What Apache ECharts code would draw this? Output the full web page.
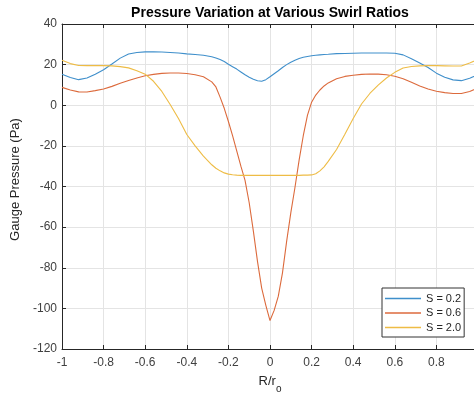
<!DOCTYPE html>
<html>
<head>
<meta charset="utf-8">
<script src="https://cdn.jsdelivr.net/npm/echarts@6/dist/echarts.min.js"></script>
<style>
html,body{margin:0;padding:0;background:#fff;}
#c{width:474px;height:396px;}
</style>
</head>
<body>
<div id="c"></div>
<script>
var xs = [-1,-0.96,-0.92,-0.88,-0.84,-0.8,-0.76,-0.72,-0.68,-0.64,-0.6,-0.56,-0.52,-0.48,-0.44,-0.4,-0.36,-0.32,-0.28,
  -0.26,-0.24,-0.22,-0.2,-0.18,-0.16,-0.14,-0.12,-0.1,-0.08,-0.06,-0.04,-0.02,0,0.02,0.04,0.06,0.08,0.1,0.12,0.14,0.16,0.18,0.2,0.22,0.24,0.26,
  0.28,0.32,0.36,0.4,0.44,0.48,0.52,0.56,0.6,0.64,0.68,0.72,0.76,0.8,0.84,0.88,0.92,0.96,1];

var s02 = [15.3,13.7,12.6,13.4,15.3,17.5,20.3,23.2,25.2,26.0,26.3,26.3,26.2,26.0,25.7,25.3,25.0,24.6,23.9,
  23.3,22.5,21.5,20.2,19.0,17.8,16.4,15.0,13.8,12.8,12.1,11.8,12.6,14.0,15.5,17.0,18.6,20.0,21.2,22.2,23.0,23.6,24.0,24.4,24.6,24.8,25.0,
  25.1,25.4,25.5,25.6,25.7,25.7,25.7,25.7,25.6,24.8,22.9,20.8,18.6,15.8,13.8,12.5,12.1,13.3,15.0];

var s06 = [8.8,7.5,6.6,6.5,7.2,8.0,9.3,10.8,12.2,13.4,14.5,15.2,15.7,15.9,15.9,15.6,15.0,14.0,11.5,
  9.0,4.0,-1.5,-8.0,-15.0,-22.5,-30.0,-37.0,-48.0,-62.0,-77.0,-90.0,-98.5,-106.0,-101.0,-94.0,-82.5,-67.0,-53.0,-40.5,-27.0,-15.0,-5.0,1.5,5.0,7.5,9.5,
  11.0,13.0,14.2,14.8,15.2,15.4,15.3,15.0,14.3,13.0,11.3,9.5,8.0,6.9,6.2,5.8,5.8,6.8,8.5];

var s20 = [22.2,20.5,19.6,19.5,19.5,19.5,19.4,19.0,18.4,17.0,15.3,11.8,6.8,0.4,-6.5,-14.4,-20.0,-25.0,-29.3,
  -31.0,-32.3,-33.3,-33.9,-34.2,-34.4,-34.5,-34.5,-34.5,-34.5,-34.5,-34.5,-34.5,-34.5,-34.5,-34.5,-34.5,-34.5,-34.5,-34.5,-34.5,-34.4,-34.4,-34.3,-33.7,-32.3,-30.3,
  -27.6,-21.8,-14.3,-6.5,0.6,5.8,9.9,13.4,16.2,18.3,19.1,19.4,19.5,19.5,19.4,19.3,19.3,20.8,22.5];

var seriesNames = ['S = 0.2','S = 0.6','S = 2.0'];
var seriesColors = ['#3f8fcb','#dc6a3c','#eebc45'];
var xTicks = {min:-1, max:1, interval:0.2};
var yTicks = {min:-120, max:40, interval:20};

function pairs(ys){ return xs.map(function(x,i){ return [x, ys[i]]; }); }

var chart = echarts.init(document.getElementById('c'), null, {renderer:'canvas'});
var font = 'Liberation Sans, Arial, Helvetica, sans-serif';
var axisCol = '#262626';
var gridCol = '#e4e4e4';

var xBase = {
  type:'value', min:xTicks.min, max:xTicks.max, interval:xTicks.interval,
  axisLine:{show:true, onZero:false, lineStyle:{color:axisCol, width:1}},
  axisTick:{show:true, inside:true, length:4, lineStyle:{color:axisCol}},
  splitLine:{show:false}
};

function mkSeries(i, ys){
  return {name:seriesNames[i], type:'line', xAxisIndex:0, data:pairs(ys), symbol:'none', smooth:false,
    lineStyle:{color:seriesColors[i], width:1.1}, itemStyle:{color:seriesColors[i]}};
}

chart.setOption({
  animation:false,
  backgroundColor:'#fff',
  title:{
    text:'Pressure Variation at Various Swirl Ratios',
    left:265, top:1, textAlign:'center',
    textStyle:{fontFamily:font, fontSize:14, fontWeight:'bold', color:'#000'}
  },
  grid:{left:62, top:24, width:416, height:325, containLabel:false, outerBoundsMode:'none'},
  legend:{
    orient:'vertical', left:382, top:288,
    data:seriesNames,
    icon:'rect',
    itemWidth:36, itemHeight:1.5, itemGap:3.5,
    padding:[5,3,4,3],
    backgroundColor:'#fff', borderColor:'#333', borderWidth:1,
    textStyle:{fontFamily:font, fontSize:11, color:'#262626'}
  },
  xAxis:[
    Object.assign({}, xBase, {
      position:'bottom',
      splitLine:{show:true, lineStyle:{color:gridCol, width:1}},
      axisLabel:{show:true, margin:8, fontFamily:font, fontSize:12, color:'#404040',
        formatter:function(v){ return String(Math.round(v*10)/10); }},
      name:'{a|R/r}{b|o}', nameLocation:'middle', nameGap:26,
      nameTextStyle:{
        rich:{
          a:{fontFamily:font, fontSize:13, color:'#262626', lineHeight:14, verticalAlign:'top'},
          b:{fontFamily:font, fontSize:10, color:'#262626', lineHeight:19, verticalAlign:'bottom'}
        }
      }
    }),
    Object.assign({}, xBase, {
      position:'top',
      axisLabel:{show:false}
    })
  ],
  yAxis:{
    type:'value', min:yTicks.min, max:yTicks.max, interval:yTicks.interval,
    axisLine:{show:true, onZero:false, lineStyle:{color:axisCol, width:1}},
    axisTick:{show:true, inside:true, length:4, lineStyle:{color:axisCol}},
    splitLine:{show:true, lineStyle:{color:gridCol, width:1}},
    axisLabel:{show:true, margin:5, fontFamily:font, fontSize:12, color:'#404040'},
    name:'Gauge Pressure (Pa)', nameLocation:'middle', nameGap:29, nameRotate:90,
    nameTextStyle:{fontFamily:font, fontSize:13, color:'#262626', padding:[0,0,0,14]}
  },
  series:[ mkSeries(0, s02), mkSeries(1, s06), mkSeries(2, s20) ]
});
</script>
</body>
</html>
